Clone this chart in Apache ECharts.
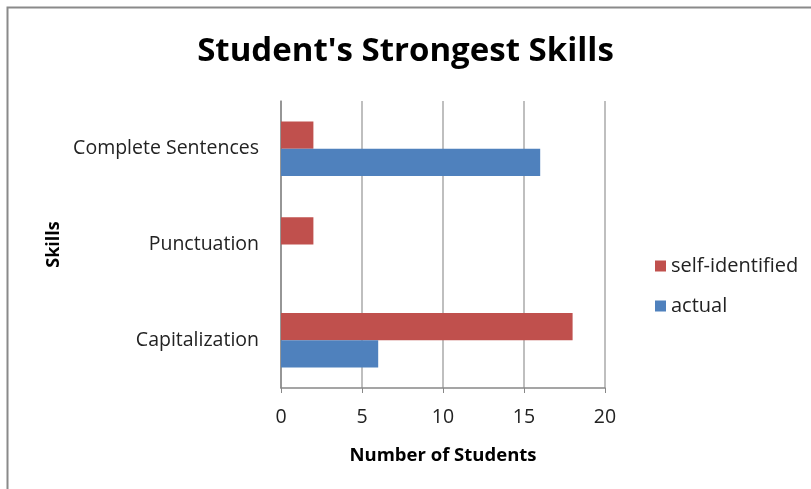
<!DOCTYPE html>
<html>
<head>
<meta charset="utf-8">
<script src="https://cdn.jsdelivr.net/npm/echarts@6/dist/echarts.min.js"></script>
<style>
html, body { margin: 0; padding: 0; background: #fff; }
#main { width: 811px; height: 489px; }
</style>
</head>
<body>
<div id="main"></div>
<script>
var skills = ['Capitalization', 'Punctuation', 'Complete Sentences'];
var actual = [6, 0, 16];
var selfIdentified = [18, 2, 2];
var xTicks = [0, 5, 10, 15, 20];

var chart = echarts.init(document.getElementById('main'));
var font = '"Open Sans", sans-serif';
chart.setOption({
    animation: false,
    backgroundColor: '#fff',
    graphic: [{
        type: 'rect',
        shape: { x: 7.5, y: 7.5, width: 820, height: 500 },
        style: { fill: 'none', stroke: '#8a8a8a', lineWidth: 2 },
        silent: true
    }],
    title: {
        text: "Student's Strongest Skills",
        left: 'center',
        top: 30,
        textStyle: { fontFamily: font, fontWeight: 'bold', fontSize: 33, color: '#000' }
    },
    legend: {
        orient: 'vertical',
        left: 650,
        top: 251,
        itemGap: 20,
        itemWidth: 11,
        itemHeight: 11,
        itemStyle: { borderWidth: 0 },
        icon: 'rect',
        data: ['self-identified', 'actual'],
        textStyle: { fontFamily: font, fontSize: 20, color: '#222' }
    },
    grid: { left: 281, right: 206, top: 101, bottom: 101 },
    xAxis: {
        type: 'value',
        min: xTicks[0],
        max: xTicks[xTicks.length - 1],
        interval: 5,
        name: 'Number of Students',
        nameLocation: 'middle',
        nameGap: 58,
        nameTextStyle: { fontFamily: font, fontWeight: 'bold', fontSize: 18.5, color: '#000' },
        axisLine: { show: true, lineStyle: { color: '#888', width: 1.5 } },
        axisTick: { show: true, length: 5, lineStyle: { color: '#888' } },
        axisLabel: { fontFamily: font, fontSize: 19.5, color: '#222', margin: 19 },
        splitLine: { show: true, lineStyle: { color: '#aaa', width: 1.5 } }
    },
    yAxis: {
        type: 'category',
        data: skills,
        name: 'Skills',
        nameLocation: 'middle',
        nameGap: 218,
        nameRotate: 90,
        nameTextStyle: { fontFamily: font, fontWeight: 'bold', fontSize: 18, color: '#000' },
        axisLine: { show: true, lineStyle: { color: '#888', width: 1.5 } },
        axisTick: { show: false },
        axisLabel: { fontFamily: font, fontSize: 19.5, color: '#222', margin: 22 }
    },
    series: [{
        name: 'self-identified',
        type: 'bar',
        data: selfIdentified,
        barCategoryGap: '43%',
        barGap: '0%',
        itemStyle: { color: '#c0504d' }
    }, {
        name: 'actual',
        type: 'bar',
        data: actual,
        itemStyle: { color: '#4f81bd' }
    }]
});
</script>
</body>
</html>
